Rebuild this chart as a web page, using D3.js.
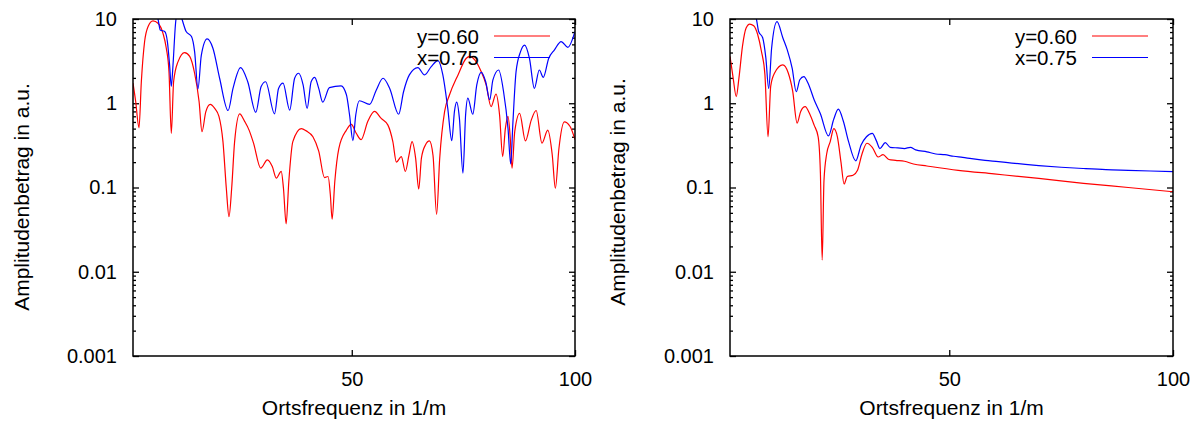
<!DOCTYPE html>
<html><head><meta charset="utf-8">
<script src="https://cdn.jsdelivr.net/npm/d3@7"></script>
<style>
html,body{margin:0;padding:0;background:#fff;}
svg{display:block;font-family:"Liberation Sans",Arial,Helvetica,sans-serif;}
</style></head>
<body><svg id="c" width="1200" height="421"></svg>
<script>
// ---------- data ----------
const seriesNames = ["y=0.60", "x=0.75"];
const seriesColors = ["#ff0000", "#0000ff"];
const yTickValues = [0.001, 0.01, 0.1, 1, 10];
const yTickLabels = ["0.001", "0.01", "0.1", "1", "10"];
const xTickValues = [50, 100];
const xTickLabels = ["50", "100"];
const xLabel = "Ortsfrequenz in 1/m";
const yLabel = "Amplitudenbetrag in a.u.";

// left panel, y=0.60 (red)
const leftRedF = [1.0,1.6,2.34,2.87,3.6,4.36,5.48,6.6,7.7,8.46,9.06,9.58,10.1,11.07,12.57,13.7,14.8,15.8,16.45,17.3,18.3,19.3,20.25,21.15,21.9,22.5,23.1,23.76,24.9,26.0,27.0,28.0,29.6,31.1,32.2,33.1,34.2,34.7,35.3,35.9,36.8,38.7,39.8,41.3,42.6,43.9,44.7,45.2,45.6,46.2,47.1,48.8,49.9,51.0,52.1,53.6,55.1,56.6,58.1,59.2,60.0,61.1,62.0,62.8,63.5,64.3,65.0,65.6,66.5,67.4,68.2,69.0,69.7,70.8,71.9,73.8,75.6,76.5,77.5,79.0,80.1,81.2,82.3,83.1,83.8,84.4,85.0,85.5,85.9,86.5,87.6,88.9,90.2,91.3,92.6,93.9,94.9,95.6,96.4,97.6,98.9,100];
const leftRedV = [1.73,1.05,0.51,1.81,5.4,8.1,9.5,8.9,6.8,4.5,2.37,0.44,1.81,3.1,4.0,3.6,2.27,1.05,0.46,0.79,0.97,0.87,0.70,0.35,0.098,0.045,0.098,0.35,0.75,0.61,0.48,0.336,0.17,0.213,0.177,0.129,0.155,0.098,0.037,0.118,0.35,0.50,0.47,0.40,0.27,0.131,0.135,0.082,0.042,0.118,0.29,0.48,0.56,0.44,0.37,0.61,0.80,0.66,0.55,0.35,0.20,0.233,0.155,0.24,0.35,0.223,0.096,0.223,0.32,0.357,0.24,0.048,0.223,0.80,1.26,2.17,3.4,3.6,3.3,2.37,1.65,0.91,1.28,0.73,0.233,0.5,0.70,0.385,0.17,0.46,0.76,0.357,0.63,0.82,0.336,0.48,0.245,0.098,0.29,0.60,0.53,0.37];

// left panel, x=0.75 (blue)
const leftBlueF = [4.5,5.5,6.6,7.1,8.1,8.7,9.2,9.58,9.96,10.5,11.1,11.8,12.9,14.1,14.8,15.55,16.3,17.6,18.9,20.4,22.3,23.4,25.1,26.7,28.5,29.7,30.7,32.7,33.6,34.6,36.1,37.2,38.1,39.1,40.0,40.9,41.7,42.6,43.5,45.0,47.6,48.8,49.5,50.25,50.9,51.7,54.0,55.5,57.0,58.5,60.5,61.6,62.9,64.8,66.3,67.8,69.3,70.4,71.5,72.4,73.0,73.5,74.1,74.9,75.5,76.0,77.1,78.0,79.0,80.0,80.9,81.6,82.9,84.0,85.0,85.6,86.1,86.8,87.8,88.7,89.8,90.9,92.0,92.9,94.1,95.4,96.9,98.4,100];
const leftBlueV = [16,13,10,7.4,7.1,5.4,2.85,1.58,2.85,8.5,13,10.6,7.1,6.2,4.1,1.48,3.7,5.8,4.5,1.98,0.82,1.5,2.65,1.8,0.78,1.58,1.8,0.75,1.5,1.73,0.83,1.98,2.27,1.65,0.87,1.8,2.03,1.5,1.03,1.53,1.61,1.26,0.73,0.36,0.73,1.07,0.97,1.44,1.98,1.5,0.74,1.37,2.17,2.65,2.17,2.72,3.2,2.17,0.87,0.36,0.8,1.03,0.67,0.148,0.73,1.15,0.74,1.65,2.33,1.8,1.1,1.88,2.48,1.37,0.5,0.19,0.6,2.37,4.1,4.9,3.4,1.5,2.48,2.03,3.4,4.3,5.4,4.6,7.1];

// right panel, y=0.60 (red)
const rightRedF = [1.0,1.7,2.4,3.0,3.8,4.6,5.4,6.3,7.2,8.0,8.8,9.5,10.1,11.0,12.8,14.0,15.0,16.0,16.8,17.8,18.8,19.8,20.7,21.2,21.6,22.0,22.6,23.4,24.2,25.0,25.8,26.5,27.2,28.5,29.5,30.5,31.6,32.8,34.1,35.2,36.5,38.0,40,42,45,52,60,70,80,90,100];
const rightRedV = [3.6,2.0,1.2,2.0,4.8,7.8,8.7,8.3,6.5,4.2,2.2,0.40,1.6,2.3,2.85,2.3,1.4,0.58,0.8,0.91,0.75,0.55,0.40,0.15,0.0138,0.12,0.25,0.35,0.50,0.40,0.2,0.11,0.135,0.14,0.16,0.25,0.335,0.3,0.23,0.245,0.215,0.21,0.205,0.19,0.18,0.16,0.145,0.128,0.112,0.1,0.089];

// right panel, x=0.75 (blue)
const rightBlueF = [5.0,6.3,6.9,7.4,8.3,9.0,9.65,10.3,11.5,12.8,13.8,14.9,15.8,16.6,17.5,18.5,19.8,21.2,23.0,24.2,25.2,26.3,27.5,29.1,30.3,31.5,32.8,33.7,34.5,35.7,36.8,38.5,40.0,41.3,42.5,45,47,49,51,53,55,58,61,64,67,70,75,80,85,90,95,100];
const rightBlueV = [14,12,10,7.1,6.0,3.5,1.5,4.5,9.3,6.0,4.3,2.6,1.37,1.9,2.07,1.7,1.1,0.75,0.41,0.65,0.85,0.62,0.35,0.207,0.32,0.40,0.44,0.36,0.29,0.34,0.3,0.295,0.29,0.3,0.28,0.265,0.25,0.245,0.235,0.228,0.22,0.21,0.203,0.195,0.188,0.182,0.174,0.168,0.163,0.16,0.157,0.154];

// ---------- drawing ----------
const svg = d3.select("#c");
const plotTop = 19, plotBottom = 356;
const panels = [
  {left:133, right:575, ylabX:22, ylabY:197, series:[[leftRedF,leftRedV],[leftBlueF,leftBlueV]]},
  {left:730, right:1173, ylabX:618, ylabY:192, series:[[rightRedF,rightRedV],[rightBlueF,rightBlueV]]}
];

panels.forEach((p, pi) => {
  const x = d3.scaleLinear().domain([1, 100]).range([p.left, p.right]);
  const y = d3.scaleLog().domain([0.001, 10]).range([plotBottom, plotTop]);
  const g = svg.append("g");
  const clipId = "clip" + pi;
  svg.append("clipPath").attr("id", clipId).append("rect")
    .attr("x", p.left).attr("y", plotTop).attr("width", p.right - p.left).attr("height", plotBottom - plotTop);

  const minor = y.ticks().filter(v => !yTickValues.some(m => Math.abs(m - v) / m < 1e-6));
  const fmt = v => yTickLabels[yTickValues.findIndex(m => Math.abs(m - v) / m < 1e-6)];
  const xfmt = v => xTickLabels[xTickValues.indexOf(v)];

  g.append("g").attr("transform", `translate(${p.left},0)`)
    .call(d3.axisLeft(y).tickValues(yTickValues).tickFormat(fmt).tickSize(-6).tickPadding(16));
  g.append("g").attr("transform", `translate(${p.left},0)`)
    .call(d3.axisLeft(y).tickValues(minor).tickFormat("").tickSize(-3));
  g.append("g").attr("transform", `translate(${p.right},0)`)
    .call(d3.axisRight(y).tickValues(yTickValues).tickFormat("").tickSize(-6));
  g.append("g").attr("transform", `translate(${p.right},0)`)
    .call(d3.axisRight(y).tickValues(minor).tickFormat("").tickSize(-3));
  g.append("g").attr("transform", `translate(0,${plotBottom})`)
    .call(d3.axisBottom(x).tickValues(xTickValues).tickFormat(xfmt).tickSize(-6).tickPadding(16));
  g.append("g").attr("transform", `translate(0,${plotTop})`)
    .call(d3.axisTop(x).tickValues(xTickValues).tickFormat("").tickSize(-6));

  g.selectAll(".domain").remove();
  g.selectAll(".tick line").attr("stroke", "#000").attr("stroke-width", 1.3);
  g.selectAll(".tick text").attr("font-size", 20).attr("fill", "#000")
    .attr("font-family", "Liberation Sans, Arial, sans-serif");

  const line = d3.line().x(d => x(d[0])).y(d => y(d[1])).curve(d3.curveMonotoneX);
  p.series.forEach((s, si) => {
    const pts = s[0].map((f, i) => [f, s[1][i]]);
    g.append("path").attr("d", line(pts)).attr("fill", "none")
      .attr("stroke", seriesColors[si]).attr("stroke-width", 1.2)
      .attr("clip-path", `url(#${clipId})`);
  });

  g.append("rect").attr("x", p.left).attr("y", plotTop)
    .attr("width", p.right - p.left).attr("height", plotBottom - plotTop)
    .attr("fill", "none").attr("stroke", "#000").attr("stroke-width", 1.5);

  seriesNames.forEach((n, si) => {
    const ly = 36 + si * 21.5;
    g.append("text").attr("x", p.right - 96).attr("y", ly + 7.5)
      .attr("text-anchor", "end").attr("font-size", 20.5).attr("fill", "#000").text(n);
    g.append("line").attr("x1", p.right - 81).attr("x2", p.right - 25)
      .attr("y1", ly).attr("y2", ly).attr("stroke", seriesColors[si]).attr("stroke-width", 1.2);
  });

  g.append("text").attr("x", (p.left + p.right) / 2).attr("y", 415)
    .attr("text-anchor", "middle").attr("font-size", 21).attr("fill", "#000").text(xLabel);
  g.append("text").attr("transform", `translate(${p.ylabX + 7},${p.ylabY}) rotate(-90)`)
    .attr("text-anchor", "middle").attr("font-size", 21).attr("fill", "#000").text(yLabel);
});
</script></body></html>
